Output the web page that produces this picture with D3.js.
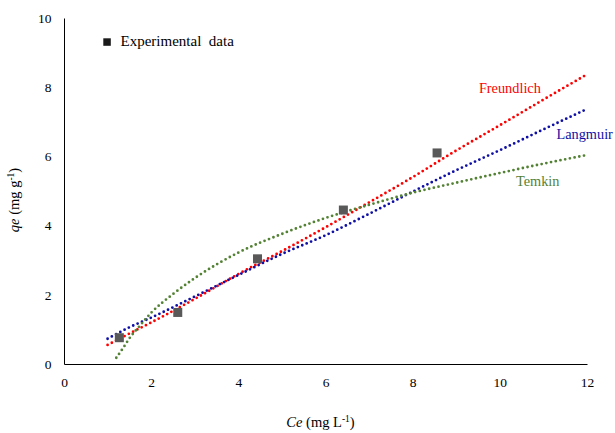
<!DOCTYPE html>
<html>
<head>
<meta charset="utf-8">
<script src="https://cdn.jsdelivr.net/npm/d3@7"></script>
<style>
  body { margin: 0; background: #fff; }
  svg { display: block; }
</style>
</head>
<body>
<svg id="chart" width="615" height="433"></svg>
<script>
// Experimental adsorption equilibrium data
const expCe = [1.27, 2.61, 4.44, 6.41, 8.56];
const expQe = [0.76, 1.49, 3.04, 4.45, 6.10];

// Isotherm model curves (Ce in mg/L, qe in mg/g)
const freundlichCe = [1, 1.5, 2, 3, 4, 5, 6, 7, 8, 9, 10, 11, 12];
const freundlichQe = [0.55, 0.88, 1.20, 1.88, 2.60, 3.26, 3.95, 4.67, 5.40, 6.17, 6.90, 7.64, 8.37];

const langmuirCe = [1, 1.5, 2, 3, 4, 5, 6, 7, 8, 9, 10, 11, 12];
const langmuirQe = [0.73, 1.06, 1.34, 1.95, 2.57, 3.18, 3.72, 4.34, 4.98, 5.60, 6.18, 6.78, 7.37];

const temkinCe = [1.2, 1.35, 1.5, 1.75, 2, 2.5, 3, 4, 5, 6, 7, 8, 9, 10, 11, 12];
const temkinQe = [0.18, 0.45, 0.74, 1.12, 1.48, 2.02, 2.48, 3.22, 3.76, 4.22, 4.60, 4.95, 5.24, 5.52, 5.79, 6.04];

const xTicks = [0, 2, 4, 6, 8, 10, 12];
const yTicks = [0, 2, 4, 6, 8, 10];

const serif = '"Liberation Serif", "Times New Roman", serif';

const models = [
  { name: "Freundlich", ce: freundlichCe, qe: freundlichQe, color: "#ff0000", label: [9.52, 7.83] },
  { name: "Langmuir",   ce: langmuirCe,   qe: langmuirQe,   color: "#0f0fa5", label: [11.30, 6.50] },
  { name: "Temkin",     ce: temkinCe,     qe: temkinQe,     color: "#548235", label: [10.37, 5.14] }
];

const svg = d3.select("#chart");
const x = d3.scaleLinear().domain([0, 12]).range([64, 587]);
const y = d3.scaleLinear().domain([0, 10]).range([364, 18]);

// Axes: plain lines, no tick marks
const xAxis = svg.append("g")
  .attr("transform", `translate(0,${y.range()[0]})`)
  .call(d3.axisBottom(x).tickValues(xTicks).tickSize(0).tickSizeOuter(0).tickPadding(13.5).tickFormat(d3.format("d")));
const yAxis = svg.append("g")
  .attr("transform", `translate(${x.range()[0]},0)`)
  .call(d3.axisLeft(y).tickValues(yTicks).tickSize(0).tickSizeOuter(0).tickPadding(12.5).tickFormat(d3.format("d")));

[xAxis, yAxis].forEach(g => {
  g.attr("font-family", null).attr("font-size", null);
  g.select(".domain").attr("stroke", "#000").attr("stroke-width", 1);
  g.selectAll("text").attr("fill", "#000")
    .style("font-family", serif).style("font-size", "13.5px");
});

// Model curves as dotted lines
const line = d3.line().curve(d3.curveMonotoneX);
models.forEach(m => {
  const pts = m.ce.map((c, i) => [x(c), y(m.qe[i])]);
  svg.append("path")
    .attr("d", line(pts))
    .attr("fill", "none")
    .attr("stroke", m.color)
    .attr("stroke-width", 2.8)
    .attr("stroke-linecap", "round")
    .attr("stroke-dasharray", "0 4.8");
  svg.append("text")
    .attr("x", x(m.label[0]))
    .attr("y", y(m.label[1]))
    .attr("fill", m.color)
    .style("font-family", serif)
    .style("font-size", "14.3px")
    .text(m.name);
});

// Experimental points
const sz = 9;
svg.append("g").selectAll("rect")
  .data(expCe.map((c, i) => [c, expQe[i]]))
  .join("rect")
  .attr("x", d => x(d[0]) - sz / 2)
  .attr("y", d => y(d[1]) - sz / 2)
  .attr("width", sz)
  .attr("height", sz)
  .attr("fill", "#595959");

// Legend
svg.append("rect")
  .attr("x", 103.3).attr("y", 38.3)
  .attr("width", 7.5).attr("height", 7.5)
  .attr("fill", "#1a1a1a");
svg.append("text")
  .attr("x", 120.5).attr("y", 46)
  .style("font-family", serif)
  .style("font-size", "15px")
  .style("white-space", "pre")
  .attr("fill", "#000")
  .text("Experimental  data");

// Axis titles
const xt = svg.append("text")
  .attr("x", 320.5).attr("y", 427)
  .attr("text-anchor", "middle")
  .style("font-family", serif)
  .style("font-size", "14.5px")
  .attr("fill", "#000");
xt.append("tspan").style("font-style", "italic").text("Ce");
xt.append("tspan").text(" (mg L");
xt.append("tspan").attr("dy", -5).style("font-size", "9.5px").text("-1");
xt.append("tspan").attr("dy", 5).text(")");

const yt = svg.append("text")
  .attr("transform", "translate(19,200) rotate(-90)")
  .attr("text-anchor", "middle")
  .style("font-family", serif)
  .style("font-size", "14.5px")
  .attr("fill", "#000");
yt.append("tspan").style("font-style", "italic").text("qe");
yt.append("tspan").text(" (mg g");
yt.append("tspan").attr("dy", -5).style("font-size", "9.5px").text("-1");
yt.append("tspan").attr("dy", 5).text(")");
</script>
</body>
</html>
